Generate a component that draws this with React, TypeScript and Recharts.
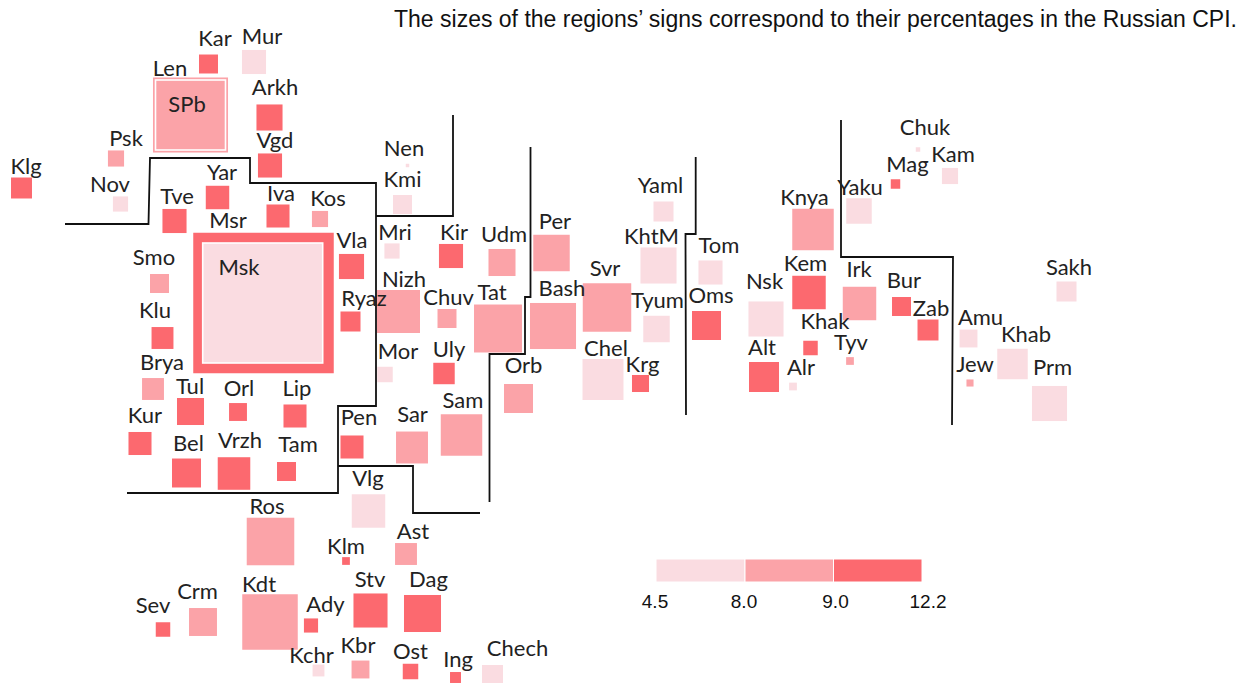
import React from 'react';
import { ScatterChart, Scatter, XAxis, YAxis, ZAxis, ReferenceArea } from 'recharts';

const CHART_W = 1245;
const CHART_H = 683;

const regionNames = [
    'Kar', 'Mur', 'Len', 'SPb', 'Arkh', 'Vgd', 'Psk', 'Klg', 'Nov', 'Yar',
    'Tve', 'Msr', 'Msk', 'Iva', 'Kos', 'Vla', 'Smo', 'Klu', 'Brya', 'Tul',
    'Orl', 'Lip', 'Ryaz', 'Mri', 'Kir', 'Nizh', 'Chuv', 'Tat', 'Mor', 'Uly',
    'Sam', 'Sar', 'Pen', 'Kur', 'Bel', 'Vrzh', 'Tam', 'Vlg', 'Ros', 'Klm',
    'Ast', 'Kdt', 'Stv', 'Dag', 'Ady', 'Crm', 'Sev', 'Kchr', 'Kbr', 'Ost',
    'Ing', 'Chech', 'Nen', 'Kmi', 'Udm', 'Per', 'Bash', 'Svr', 'Yaml', 'KhtM',
    'Tyum', 'Tom', 'Oms', 'Orb', 'Chel', 'Krg', 'Nsk', 'Alt', 'Alr', 'Kem',
    'Irk', 'Khak', 'Tyv', 'Bur', 'Zab', 'Amu', 'Jew', 'Khab', 'Prm', 'Sakh',
    'Knya', 'Yaku', 'Mag', 'Chuk', 'Kam',
];

// tile map position of each region
const mapX = [
    208.5, 254, 190.5, 190.5, 269.5, 270, 116, 21.5, 120.5, 217.5,
    174.5, 263.5, 262.7, 278, 320, 351.5, 159.5, 162.5, 153, 190.5,
    238, 295, 350.5, 392, 451, 398.5, 447, 498, 385, 444,
    461.5, 412, 352, 140, 186.5, 234, 286.5, 368.5, 270.5, 346,
    406, 270, 370.5, 422.5, 311, 203, 163, 318.5, 360.5, 410.5,
    455.5, 492.5, 407.5, 402.5, 502, 551.5, 553, 607, 663.5, 658.5,
    656.5, 710.5, 706.5, 518.5, 603, 640.5, 766, 764, 793, 809,
    859.5, 810.5, 850, 901.5, 928, 968.5, 970, 1012.5, 1049.5, 1066.5,
    813, 859, 895.5, 918, 950,
];
const mapY = [
    64, 62, 115, 115, 117.5, 165.5, 158.5, 188, 204, 197.5,
    221, 303, 303, 216, 219, 266.5, 283.5, 338, 389, 411.5,
    412, 416, 321.5, 251, 256, 311.5, 318.5, 328.5, 374.5, 373.5,
    435, 447.5, 447, 443.5, 473, 473.5, 471.5, 511, 541.5, 561,
    554, 622, 610.5, 613.5, 625.5, 622, 629.5, 670.5, 669.5, 671.5,
    677.5, 675.5, 165.5, 204.5, 262.5, 253, 326, 307.5, 211.5, 265.5,
    329, 272.5, 325.5, 398.5, 379.5, 383.5, 319, 377, 386.5, 292.5,
    303.5, 348, 361, 306.5, 330, 338.5, 383, 364, 403.5, 291.5,
    229.5, 211, 184, 149.5, 176,
];

// share in the CPI, read from the sign area
const cpiShare = [
    0.36, 0.58, 5.63, 4.9, 0.68, 0.58, 0.26, 0.44, 0.23, 0.55,
    0.58, 19.74, 14.4, 0.53, 0.26, 0.63, 0.36, 0.48, 0.48, 0.73,
    0.32, 0.53, 0.4, 0.23, 0.58, 1.85, 0.36, 2.3, 0.24, 0.46,
    1.72, 1.02, 0.53, 0.53, 0.84, 1.06, 0.36, 1.12, 2.26, 0.06,
    0.48, 3.08, 1.16, 1.37, 0.2, 0.78, 0.21, 0.14, 0.32, 0.24,
    0.12, 0.44, 0.012, 0.36, 0.73, 1.33, 2.12, 2.35, 0.4, 1.3,
    0.7, 0.58, 0.84, 0.84, 1.68, 0.29, 1.23, 0.9, 0.06, 1.12,
    1.12, 0.21, 0.06, 0.36, 0.44, 0.32, 0.05, 0.93, 1.23, 0.4,
    1.72, 0.65, 0.09, 0.02, 0.26,
];

// 0: 4.5-8.0, 1: 8.0-9.0, 2: 9.0-12.2
const inflationBand = [
    2, 0, 1, 1, 2, 2, 1, 2, 0, 2,
    2, 2, 0, 2, 1, 2, 1, 2, 1, 2,
    2, 2, 2, 0, 2, 1, 1, 1, 0, 2,
    1, 1, 2, 2, 2, 2, 2, 0, 1, 2,
    1, 1, 2, 2, 2, 1, 2, 0, 1, 2,
    2, 0, 0, 0, 1, 1, 1, 1, 0, 0,
    0, 0, 2, 1, 0, 2, 0, 2, 0, 2,
    1, 2, 1, 2, 2, 0, 1, 0, 0, 0,
    1, 0, 2, 0, 0,
];

const labelX = [
    215, 262, 170, 187, 275, 275, 126, 26, 110, 222,
    177, 228, 239, 281, 328, 352, 154, 155, 162, 190,
    239, 297, 364, 395, 454, 404, 448.5, 492, 398, 449,
    463, 412.5, 359, 145, 188.5, 240, 298, 368, 267, 346,
    413, 259, 370, 428.5, 325.5, 197.5, 153, 311.5, 358, 410.5,
    458, 517.5, 404, 402.5, 504, 555, 562, 605, 660.5, 651.5,
    657.5, 719, 711, 523.5, 606, 642.5, 764.5, 762, 801, 805.5,
    859, 825, 851, 904, 931, 980.5, 975, 1026, 1052.5, 1069,
    804.5, 860, 907.5, 925, 953,
];
const labelY = [
    46, 44, 76, 112, 95, 148, 146, 174, 192, 180,
    204, 228, 275, 201, 206, 248, 265, 318, 370, 394,
    396, 396, 306, 240, 240, 287, 305, 300, 359, 357,
    408, 422, 425, 423, 451, 448, 452, 486, 514, 554,
    539, 592, 587, 587, 612, 599, 613, 663, 653, 659,
    667, 656, 156, 187, 242, 229, 296, 276, 193, 244,
    308, 253, 303, 373, 356, 372, 289, 355, 375, 271,
    277, 329, 350, 288, 316, 325, 372, 342, 375, 275,
    205, 195, 172, 135, 162,
];

const bandColors = ['#FADCE1', '#FBA3A8', '#FC696F'];
const outlinedRegions = ['Msk', 'SPb'];

const borders = [
    [[65, 224], [148.5, 224], [150, 158], [250, 158], [250, 183], [376, 183], [376, 406], [338, 406], [338, 493], [127, 493]],
    [[453, 115], [453, 216], [376, 216]],
    [[338, 466], [413, 466], [413, 513], [480, 513]],
    [[530.5, 147], [530.5, 297], [525, 297], [525, 354], [489.5, 354], [489.5, 502]],
    [[695.7, 157], [695.7, 234], [685.5, 234], [686, 415]],
    [[841, 120], [841, 257], [953, 257], [952, 425]],
];

const legendStops = [4.5, 8.0, 9.0, 12.2];
const legendEdges = [656, 745, 833.5, 922];
const legendLabelX = [655, 744, 835.5, 928];

const TITLE = 'The sizes of the regions\u2019 signs correspond to their percentages in the Russian CPI.';

const signs = regionNames.map((name, i) => ({
    name, x: mapX[i], y: mapY[i], share: cpiShare[i], band: inflationBand[i],
}));
const labels = regionNames.map((name, i) => ({ name, x: labelX[i], y: labelY[i] }));
const legendLabels = legendStops.map((v, i) => ({ name: v.toFixed(1), x: legendLabelX[i], y: 608 }));

const LABEL_FONT = 'Lato, "Open Sans", sans-serif';
const ARIAL = '"Liberation Sans", Arial, sans-serif';

function SignShape(props: any) {
    const { cx, cy, size, payload } = props;
    const side = Math.sqrt(size);
    const outlined = outlinedRegions.includes(payload.name);
    return (
        <rect
            x={cx - side / 2}
            y={cy - side / 2}
            width={side}
            height={side}
            fill={bandColors[payload.band]}
            stroke={outlined ? '#fff' : 'none'}
            strokeWidth={outlined ? 1.6 : 0}
        />
    );
}

function RegionLabel(props: any) {
    return (
        <text x={props.cx} y={props.cy} textAnchor="middle" fontFamily={LABEL_FONT} fontSize={22} fill="#222">
            {props.payload.name}
        </text>
    );
}

function LegendLabel(props: any) {
    return (
        <text x={props.cx} y={props.cy} textAnchor="middle" fontFamily={ARIAL} fontSize={19} fill="#111">
            {props.payload.name}
        </text>
    );
}

function TitleText(props: any) {
    return (
        <text x={props.cx} y={props.cy} fontFamily={ARIAL} fontSize={23} fill="#111">
            {TITLE}
        </text>
    );
}

const NoPoint = () => <g />;

export default function App() {
    return (
        <div style={{ position: 'absolute', left: 0, top: 0, width: CHART_W, height: CHART_H, background: '#fff' }}>
            <ScatterChart width={CHART_W} height={CHART_H} margin={{ top: 0, right: 0, bottom: 0, left: 0 }}>
                <XAxis type="number" dataKey="x" domain={[0, CHART_W]} hide />
                <YAxis type="number" dataKey="y" domain={[0, CHART_H]} reversed hide />
                <ZAxis type="number" dataKey="share" domain={[0, 20]} range={[0, 20000]} />
                {legendStops.slice(0, -1).map((_, i) => (
                    <ReferenceArea
                        key={i}
                        x1={legendEdges[i]}
                        x2={legendEdges[i + 1]}
                        y1={559}
                        y2={582}
                        fill={bandColors[i]}
                        fillOpacity={1}
                        stroke="#fff"
                        strokeWidth={1}
                    />
                ))}
                <Scatter data={signs} shape={SignShape} isAnimationActive={false} />
                {borders.map((pts, i) => (
                    <Scatter
                        key={i}
                        data={pts.map(([x, y]) => ({ x, y }))}
                        line={{ stroke: '#111', strokeWidth: 1.8 }}
                        lineType="joint"
                        shape={NoPoint}
                        isAnimationActive={false}
                    />
                ))}
                <Scatter data={labels} shape={RegionLabel} isAnimationActive={false} />
                <Scatter data={legendLabels} shape={LegendLabel} isAnimationActive={false} />
                <Scatter data={[{ x: 394, y: 27 }]} shape={TitleText} isAnimationActive={false} />
            </ScatterChart>
        </div>
    );
}
